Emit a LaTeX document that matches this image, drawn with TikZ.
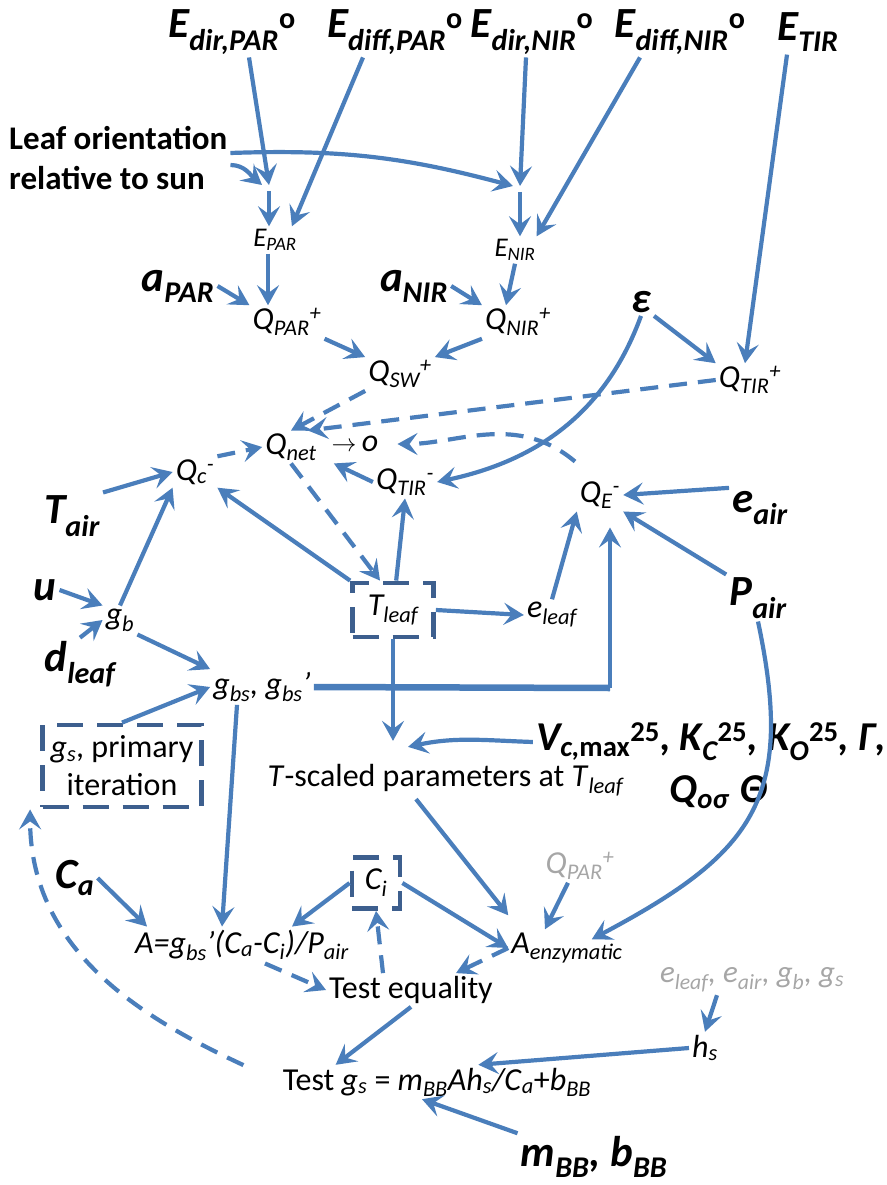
\documentclass[tikz,border=0pt]{standalone}
\usepackage{fontspec}
\setmainfont{Carlito}
\usetikzlibrary{arrows.meta, positioning}
\definecolor{cblue}{HTML}{4A7EBB}
\definecolor{cdark}{HTML}{3D5F8E}
\definecolor{cgrey}{HTML}{A6A6A6}
\newcommand{\lsub}[1]{\textsubscript{#1}}
\newcommand{\lsup}[1]{\textsuperscript{#1}}

\begin{document}
\begin{tikzpicture}[x=1pt, y=-1pt, inner sep=3pt,
    inp/.style={font=\fontsize{43}{48}\selectfont\bfseries\itshape},
    var/.style={font=\fontsize{32}{36}\selectfont\itshape},
    svar/.style={font=\fontsize{27}{30}\selectfont\itshape},
    lab/.style={font=\fontsize{32}{38}\selectfont},
    conn/.style={draw=cblue, line width=4.2pt, -{Stealth[length=20pt, width=22pt, inset=8pt]}},
    dconn/.style={conn, dash pattern=on 18pt off 11pt},
    itbox/.style={draw=cdark, line width=4.8pt, dash pattern=on 26pt off 14pt}]
  \useasboundingbox (0,0) rectangle (886,1185);

  % inputs, top row
  \node[inp] (edp) at (232,32) {E\lsub{dir,PAR}\lsup{\upshape o}};
  \node[inp] (edfp) at (395,32) {E\lsub{diff,PAR}\lsup{\upshape o}};
  \node[inp] (edn) at (532,32) {E\lsub{dir,NIR}\lsup{\upshape o}};
  \node[inp] (edfn) at (680,32) {E\lsub{diff,NIR}\lsup{\upshape o}};
  \node[inp] (etir) at (808,32) {E\lsub{TIR}};
  \node[lab, font=\fontsize{33}{40}\selectfont\bfseries, align=left, anchor=west] (leaf) at (6,158) {Leaf orientation\\relative to sun};

  % radiation
  \node[svar] (epar) at (275,240) {E\lsub{PAR}};
  \node[svar] (enir) at (515,250) {E\lsub{NIR}};
  \node[inp] (apar) at (178,286) {a\lsub{PAR}};
  \node[inp] (anir) at (414,286) {a\lsub{NIR}};
  \node[var] (qpar) at (287,322) {Q\lsub{PAR}\lsup{+}};
  \node[var] (qnir) at (518,322) {Q\lsub{NIR}\lsup{+}};
  \node[var] (qsw) at (400,374) {Q\lsub{SW}\lsup{+}};
  \node[inp] (eps) at (641,302) {ε};
  \node[var] (qtirp) at (750,380) {Q\lsub{TIR}\lsup{+}};

  % energy balance
  \node[var] (qnet) at (291,447) {Q\lsub{net}};
  \node[var] (zero) at (355,444) {$\rightarrow$\,o};
  \node[var] (qc) at (195,472) {Q\lsub{c}\lsup{-}};
  \node[var] (qtirm) at (405,482) {Q\lsub{TIR}\lsup{-}};
  \node[var] (qe) at (600,495) {Q\lsub{E}\lsup{-}};
  \node[inp] (tair) at (72,516) {T\lsub{air}};
  \node[inp] (eair) at (760,508) {e\lsub{air}};
  \node[inp] (u) at (45,590) {u};
  \node[var] (gb) at (120,620) {g\lsub{b}};
  \node[var, itbox, minimum width=81pt, minimum height=54pt] (tleaf) at (393,610) {T\lsub{leaf}};
  \node[var] (eleaf) at (552,615) {e\lsub{leaf}};
  \node[inp] (pair) at (758,598) {P\lsub{air}};
  \node[inp] (dleaf) at (80,664) {d\lsub{leaf}};

  % conductances and photosynthesis
  \node[var] (gbs) at (262,687) {g\lsub{bs}, g\lsub{bs}’};
  \node[lab, itbox, align=center, minimum width=159pt, minimum height=82pt] (gsit) at (122,766) {\textit{g}\lsub{\textit{s}}, primary\\iteration};
  \node[lab] (tsc) at (446,780) {\textit{T}-scaled parameters at \textit{T}\lsub{\textit{leaf}}};
  \node[inp, font=\fontsize{41}{46}\selectfont\bfseries\itshape] (vrow) at (711,742) {V\lsub{c,\upshape max}\lsup{\upshape 25}, K\lsub{C}\lsup{\upshape 25}, K\lsub{O}\lsup{\upshape 25}, Γ,};
  \node[inp, font=\fontsize{41}{46}\selectfont\bfseries\itshape] (qrow) at (719,792) {Q\lsub{oσ}\hspace{12pt}Θ};
  \node[var, itbox, minimum width=48pt, minimum height=51pt] (ci) at (376,883) {C\lsub{i}};
  \node[var, cgrey] (qpar2) at (580,866) {Q\lsub{PAR}\lsup{+}};
  \node[inp] (ca) at (75,878) {C\lsub{a}};
  \node[var] (aeq) at (242,945) {A=g\lsub{bs}’(C\lsub{a}-C\lsub{i})/P\lsub{air}};
  \node[var] (aenz) at (567,948) {A\lsub{enzymatic}};
  \node[lab] (teq) at (411,990) {Test equality};
  \node[var, cgrey, font=\fontsize{31}{36}\selectfont\itshape] (hsin) at (752,980) {e\lsub{leaf}, e\lsub{air}, g\lsub{b}, g\lsub{s}};
  \node[var] (hs) at (705,1048) {h\lsub{s}};
  \node[lab] (tgs) at (437,1082) {Test \textit{g}\lsub{\textit{s}} = \textit{m}\lsub{\textit{BB}}\textit{Ah}\lsub{\textit{s}}\textit{/C}\lsub{\textit{a}}+\textit{b}\lsub{\textit{BB}}};
  \node[inp] (mbb) at (594,1157) {m\lsub{BB}, b\lsub{BB}};

  \coordinate (mp) at (269,185);
  \coordinate (mn) at (520,186);
  \coordinate (cr) at (610,688);

  % shortwave and longwave
  \draw[conn] ([xshift=17pt]edp.south) -- (mp);
  \draw[conn] ([xshift=-6pt]edn.south) -- (mn);
  \draw[conn] ([yshift=-7pt]leaf.east) to[out=0, in=140] ([xshift=-7pt]mp);
  \draw[conn] ([yshift=5pt]leaf.east) to[out=2, in=165] ([xshift=-7pt]mn);
  \draw[conn] ([xshift=-32pt]edfp.south) -- ([xshift=-8pt]epar.north east);
  \draw[conn] ([xshift=-40pt]edfn.south) -- ([xshift=-2pt]enir.north east);
  \draw[conn] ([yshift=-6pt]mp) -- (epar.north -| mp);
  \draw[conn] ([yshift=-6pt]mn) -- (enir.north -| mn);
  \draw[conn] ([xshift=-7pt]epar.south) -- ([xshift=-19pt]qpar.north);
  \draw[conn] (enir.south) -- ([xshift=-12pt]qnir.north);
  \draw[conn] (apar.east) -- (qpar.north west);
  \draw[conn] (anir.east) -- (qnir.north west);
  \draw[conn] (qpar.south east) -- (qsw.north west);
  \draw[conn] (qnir.south west) -- (qsw.north east);
  \draw[conn] (eps.south east) -- (qtirp.north west);
  \draw[conn] ([xshift=-21pt]etir.south) -- ([xshift=-5pt]qtirp.north);
  \draw[conn] (eps.south) to[out=-110, in=12] (qtirm.east);
  \draw[dconn] (qtirp.west) -- ([xshift=-12pt]qnet.north east);
  \draw[dconn] (qsw.south west) -- (qnet.north);

  % net balance
  \draw[dconn] (qc.north east) -- (qnet.west);
  \draw[conn] (tair.north east) -- (qc.west);
  \draw[conn] (gb.north) -- (qc.south west);
  \draw[conn] (tleaf.north west) -- (qc.south east);
  \draw[dconn] (qnet.south) -- ([xshift=-13pt]tleaf.north);
  \draw[conn] (tleaf) -- (qtirm.south);
  \draw[conn] (qtirm.west) -- ([xshift=14pt]qnet.south east);
  \draw[dconn, shorten >=16pt] ([shift={(-25pt,17pt)}]qe.north) to[out=140, in=0] (zero.east);
  \draw[conn] (tleaf.east) -- (eleaf.west);
  \draw[conn] (eleaf.north) -- (qe.south west);
  \draw[conn] (eair.north west) -- (qe.east);
  \draw[conn] (pair.north west) -- (qe.south east);
  \draw[cblue, line width=6.5pt] (gbs.east) -- (cr);
  \draw[conn, shorten >=16pt] (cr) -- (cr |- qe.south);

  % conductances
  \draw[conn] (u.east) -- (gb.north west);
  \draw[conn] (dleaf.north) -- (gb.west);
  \draw[conn] (gb.south east) -- (gbs.north west);
  \draw[conn] (gsit.north) -- (gbs.west);
  \draw[conn, shorten >=20pt] (tleaf.south) -- (tleaf.south |- tsc.north);
  \draw[conn] (vrow.west) to[out=178, in=12] ([xshift=-38pt, yshift=14pt]tsc.north);

  % photosynthesis loop
  \draw[conn] ([xshift=-25pt]gbs.south) -- ([xshift=-20pt]aeq.north);
  \draw[conn] (ca.east) -- ([xshift=15pt]aeq.north west);
  \draw[conn] (ci.west) -- ([xshift=50pt]aeq.north);
  \draw[dconn] ([xshift=-28pt]teq.north) -- (ci.south);
  \draw[dconn] ([xshift=23pt]aeq.south) -- (teq.west);
  \draw[conn] (ci.east) -- (aenz.west);
  \draw[conn] ([xshift=-30pt]tsc.south) -- ([yshift=14pt]aenz.north west);
  \draw[conn] ([xshift=-12pt]qpar2.south) -- ([xshift=-22pt]aenz.north);
  \draw[conn] (pair.south) to[out=-78, in=28, looseness=1.3] ([xshift=-34pt, yshift=-10pt]aenz.north east);
  \draw[dconn] (aenz.west) -- ([xshift=-40pt]teq.north east);
  \draw[conn] (teq.south) -- ([xshift=56pt]tgs.north west);
  \draw[conn] ([xshift=-35pt]hsin.south) -- (hs.north);
  \draw[conn] (hs.west) -- ([xshift=-116pt]tgs.north east);
  \draw[conn] (mbb.north west) -- ([xshift=-15pt]tgs.south);
  \draw[dconn, shorten <=40pt] (tgs.west) to[out=155, in=-90] ([xshift=-10pt]gsit.south west);
\end{tikzpicture}
\end{document}
